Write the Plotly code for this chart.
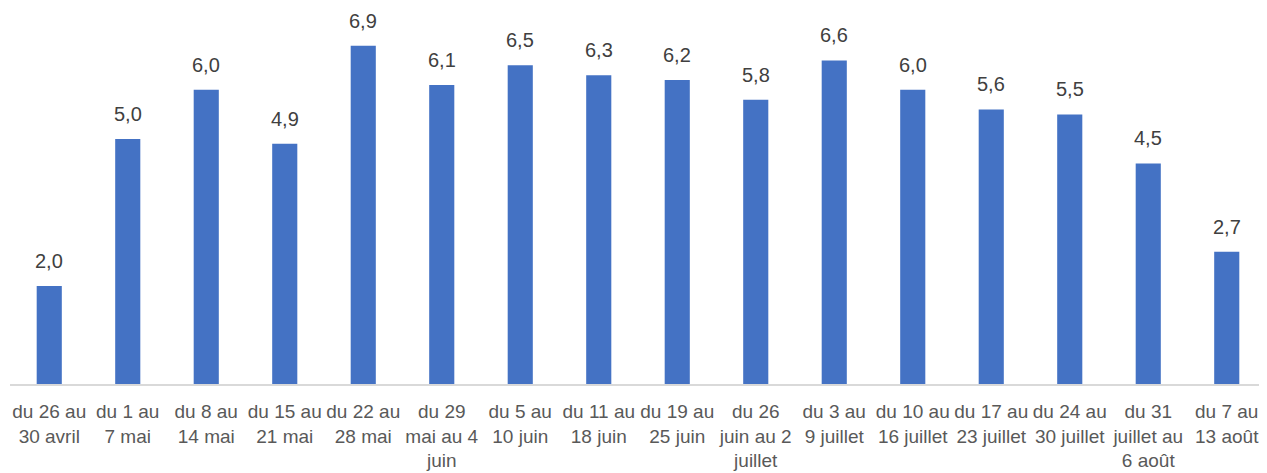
import plotly.graph_objects as go

semaines = [
    "du 26 au<br>30 avril", "du 1 au<br>7 mai", "du 8 au<br>14 mai",
    "du 15 au<br>21 mai", "du 22 au<br>28 mai", "du 29<br>mai au 4<br>juin",
    "du 5 au<br>10 juin", "du 11 au<br>18 juin", "du 19 au<br>25 juin",
    "du 26<br>juin au 2<br>juillet", "du 3 au<br>9 juillet", "du 10 au<br>16 juillet",
    "du 17 au<br>23 juillet", "du 24 au<br>30 juillet", "du 31<br>juillet au<br>6 août",
    "du 7 au<br>13 août",
]
valeurs = [2.0, 5.0, 6.0, 4.9, 6.9, 6.1, 6.5, 6.3, 6.2, 5.8, 6.6, 6.0, 5.6, 5.5, 4.5, 2.7]

fig = go.Figure(go.Bar(
    x=semaines, y=valeurs,
    marker=dict(color="#4472C4", line=dict(width=0)),
))

# étiquettes de valeurs au-dessus des barres (virgule décimale)
for s, v in zip(semaines, valeurs):
    fig.add_annotation(
        x=s, y=v, text=f"{v:.1f}".replace(".", ","),
        showarrow=False, yanchor="bottom", yshift=12,
        font=dict(size=20, color="#404040", family="Liberation Sans"),
    )

fig.update_xaxes(
    showline=True, linecolor="#D9D9D9", linewidth=2,
    tickfont=dict(size=19, color="#595959", family="Liberation Sans"),
    ticks="", ticklabelstandoff=9, automargin=False,
)
fig.update_yaxes(range=[0, 7.67], visible=False, showgrid=False)

# la page a une marge de 8px autour du graphique
fig.update_layout(
    width=1259, height=465, bargap=0.68,
    margin=dict(l=2, r=1, t=0, b=89),
    plot_bgcolor="white", paper_bgcolor="white",
    showlegend=False,
)

fig.write_html("out.html")
